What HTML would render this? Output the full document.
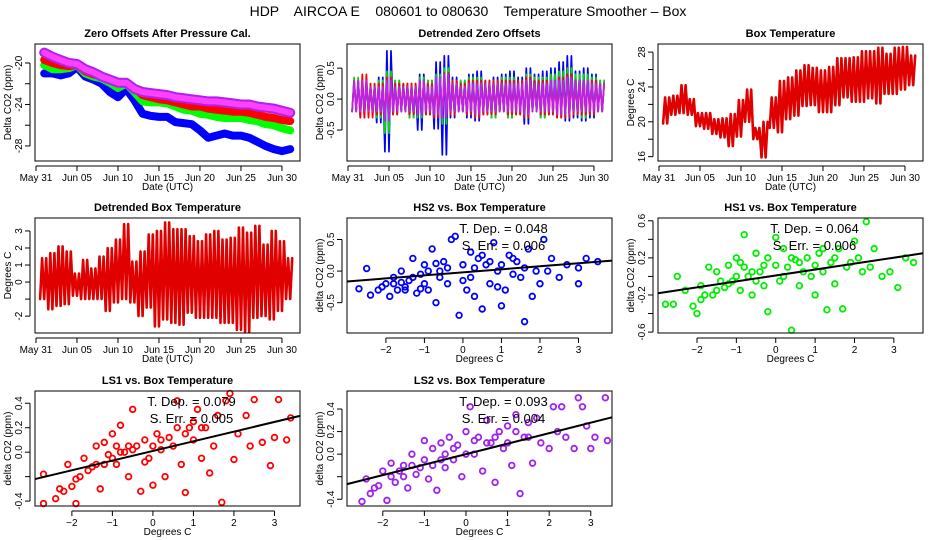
<!DOCTYPE html>
<html><head><meta charset="utf-8"><style>
body{margin:0;background:#fff}
svg{display:block;font-family:"Liberation Sans",sans-serif}
</style></head><body>
<svg id="c" width="936" height="540" viewBox="0 0 936 540" xmlns="http://www.w3.org/2000/svg">
<rect width="936" height="540" fill="#fff"/>
<text x="468" y="16" text-anchor="middle" font-size="14" style="white-space:pre">HDP    AIRCOA E    080601 to 080630    Temperature Smoother – Box</text>
</svg>
<script>
// ---- data ----
const dayLabels=["May 31","Jun 05","Jun 10","Jun 15","Jun 20","Jun 25","Jun 30"];
const dayTicks=[0,5,10,15,20,25,30];
const zoPurple=[-19.0,-19.4,-19.7,-20.0,-20.1,-20.6,-20.9,-21.3,-21.6,-21.9,-21.9,-22.5,-22.8,-22.9,-23.0,-23.1,-23.3,-23.4,-23.5,-23.6,-23.7,-23.7,-23.8,-23.9,-24.0,-24.0,-24.2,-24.3,-24.4,-24.6,-24.8];
const zoRed=[-19.7,-20.0,-20.2,-20.3,-20.2,-20.8,-21.1,-21.3,-21.6,-21.9,-21.9,-22.4,-23.1,-23.3,-23.5,-23.6,-23.8,-24.0,-24.2,-24.2,-24.4,-24.5,-24.6,-24.7,-24.7,-24.8,-25.0,-25.2,-25.3,-25.5,-25.6];
const zoGreen=[-20.2,-20.6,-20.6,-20.5,-20.2,-21.0,-21.3,-21.5,-21.9,-22.4,-22.0,-22.8,-23.7,-23.8,-23.8,-23.9,-24.2,-24.5,-24.6,-24.9,-25.0,-25.2,-25.3,-25.3,-25.3,-25.5,-25.6,-25.9,-26.0,-26.3,-26.5];
const zoBlue=[-21.0,-21.0,-21.2,-21.0,-20.4,-21.3,-21.6,-22.0,-22.8,-23.3,-22.5,-23.6,-24.9,-25.1,-25.2,-25.2,-25.7,-25.8,-25.9,-26.5,-27.2,-27.0,-26.8,-27.0,-27.0,-27.2,-27.6,-28.0,-28.3,-28.5,-28.3];
const dtBlueMin=[-0.2,-0.3,-0.2,-0.38,-0.85,-0.25,-0.2,-0.3,-0.5,-0.25,-0.48,-0.9,-0.3,-0.2,-0.3,-0.35,-0.25,-0.3,-0.2,-0.3,-0.25,-0.4,-0.2,-0.3,-0.25,-0.3,-0.35,-0.3,-0.35,-0.3,-0.2];
const dtBlueMax=[0.3,0.3,0.2,0.35,0.78,0.3,0.25,0.25,0.4,0.3,0.6,0.7,0.35,0.3,0.4,0.45,0.3,0.35,0.4,0.45,0.35,0.5,0.4,0.45,0.5,0.6,0.7,0.45,0.5,0.4,0.3];
const dtGreenMin=[-0.2,-0.25,-0.2,-0.3,-0.55,-0.25,-0.2,-0.3,-0.3,-0.25,-0.3,-0.4,-0.25,-0.2,-0.25,-0.3,-0.25,-0.3,-0.2,-0.3,-0.25,-0.3,-0.2,-0.3,-0.25,-0.3,-0.3,-0.25,-0.3,-0.25,-0.2];
const dtGreenMax=[0.35,0.3,0.25,0.3,0.45,0.3,0.25,0.25,0.35,0.3,0.4,0.5,0.3,0.3,0.35,0.35,0.3,0.3,0.35,0.35,0.3,0.4,0.35,0.35,0.4,0.45,0.5,0.4,0.4,0.35,0.3];
const dtRedMin=[-0.2,-0.3,-0.3,-0.25,-0.3,-0.25,-0.2,-0.25,-0.25,-0.25,-0.3,-0.3,-0.25,-0.2,-0.25,-0.3,-0.25,-0.25,-0.2,-0.25,-0.25,-0.3,-0.2,-0.25,-0.25,-0.3,-0.3,-0.25,-0.25,-0.25,-0.2];
const dtRedMax=[0.3,0.4,0.25,0.25,0.35,0.25,0.25,0.25,0.3,0.25,0.3,0.42,0.3,0.25,0.3,0.3,0.3,0.3,0.3,0.3,0.3,0.35,0.3,0.3,0.3,0.35,0.4,0.3,0.3,0.3,0.25];
const dtPurMin=[-0.2,-0.2,-0.2,-0.2,-0.35,-0.2,-0.2,-0.2,-0.25,-0.2,-0.25,-0.3,-0.2,-0.2,-0.2,-0.25,-0.2,-0.2,-0.2,-0.2,-0.2,-0.25,-0.2,-0.2,-0.2,-0.25,-0.25,-0.2,-0.2,-0.2,-0.2];
const dtPurMax=[0.3,0.3,0.2,0.2,0.3,0.2,0.2,0.2,0.3,0.2,0.35,0.4,0.25,0.2,0.25,0.25,0.25,0.25,0.25,0.25,0.25,0.3,0.25,0.25,0.3,0.3,0.35,0.3,0.3,0.25,0.25];
const btMin=[19.8,20.8,21.0,20.8,19.5,19.2,18.6,18.2,17.2,18.3,20.0,18.0,15.9,19.3,18.8,20.3,20.7,21.8,21.9,21.1,21.1,21.9,22.8,22.3,22.3,22.7,22.1,23.2,23.2,23.7,24.2];
const btMax=[22.8,23.0,24.2,22.6,21.0,21.0,20.3,20.4,20.9,22.5,23.7,19.3,20.0,22.8,24.7,25.1,25.9,26.5,26.2,25.9,26.3,27.3,27.3,27.4,28.1,28.1,28.5,27.8,28.5,28.6,27.6];
const dbMin=[-1.0,-1.6,-1.4,-1.3,-0.8,-1.0,-1.0,-1.0,-1.7,-1.2,-1.0,-1.2,-2.0,-1.5,-2.6,-2.2,-2.4,-2.5,-1.8,-2.1,-2.1,-2.1,-2.4,-2.4,-2.8,-2.9,-2.1,-2.0,-2.2,-1.7,-1.0];
const dbMax=[1.4,1.7,2.1,1.8,0.5,1.3,0.8,1.5,2.0,2.5,3.4,1.2,1.8,2.8,3.0,3.5,3.1,3.1,2.7,2.4,2.8,3.0,2.5,2.6,3.2,2.9,3.3,2.2,3.0,2.4,1.4];
const hs2Pts=[[-2.7,-0.28],[-2.5,0.04],[-2.4,-0.38],[-2.2,-0.3],[-2.0,-0.2],[-1.9,-0.4],[-1.8,-0.1],[-1.7,-0.3],[-1.6,0.0],[-1.5,-0.25],[-1.4,-0.15],[-1.3,0.2],[-1.2,-0.35],[-1.1,-0.05],[-1.0,0.1],[-0.9,-0.3],[-0.8,0.35],[-0.7,-0.5],[-0.6,0.0],[-0.5,0.15],[-0.4,-0.2],[-0.3,0.5],[-0.2,0.55],[-0.1,-0.7],[0.0,0.1],[0.1,-0.3],[0.2,0.3],[0.3,-0.4],[0.4,0.2],[0.5,-0.6],[0.6,0.1],[0.7,-0.2],[0.8,0.45],[0.9,0.0],[1.0,-0.55],[1.1,-0.3],[1.2,0.25],[1.3,-0.05],[1.4,0.15],[1.5,-0.1],[1.6,-0.8],[1.7,0.35],[1.8,-0.4],[1.9,0.0],[2.0,-0.2],[2.1,0.5],[2.3,0.2],[2.5,-0.1],[2.7,0.1],[3.0,-0.2],[3.0,0.05],[3.2,0.2],[3.5,0.15],[-1.5,-0.3],[-0.6,-0.1],[0.3,0.05],[-1.0,-0.2],[0.7,0.15],[-1.8,-0.2],[-1.3,-0.1],[-0.9,0.0],[-0.4,0.05],[0.2,-0.1],[0.5,0.25],[1.0,0.1],[1.3,0.2],[-2.1,-0.25],[-1.6,-0.18],[-1.1,-0.28],[-0.7,0.12],[0.0,-0.15],[0.9,-0.25],[1.6,0.05],[2.2,0.0]];
const hs1Pts=[[-2.8,-0.3],[-2.6,-0.3],[-2.5,0.0],[-2.3,-0.15],[-2.1,-0.32],[-2.0,-0.4],[-1.9,-0.1],[-1.7,0.1],[-1.6,-0.2],[-1.5,0.05],[-1.3,-0.12],[-1.2,0.12],[-1.1,-0.05],[-1.0,0.2],[-0.9,-0.15],[-0.8,0.45],[-0.7,0.0],[-0.6,-0.2],[-0.5,0.25],[-0.4,0.05],[-0.3,-0.1],[-0.2,-0.38],[0.0,0.12],[0.0,0.42],[0.1,-0.05],[0.2,0.3],[0.3,0.1],[0.4,-0.58],[0.5,0.18],[0.6,-0.1],[0.8,0.2],[0.9,0.0],[1.0,-0.2],[1.1,0.25],[1.2,0.05],[1.3,-0.36],[1.4,0.15],[1.5,-0.08],[1.6,0.3],[1.7,-0.35],[1.8,0.1],[2.0,0.38],[2.1,0.2],[2.3,0.59],[2.4,0.1],[2.5,0.3],[2.7,0.0],[2.9,0.05],[3.1,-0.12],[3.3,0.2],[3.5,0.15],[-1.4,-0.05],[-0.8,0.1],[-1.8,-0.2],[0.6,0.15],[-0.2,0.2],[-1.2,-0.08],[-1.0,0.0],[-0.6,0.05],[-0.3,0.12],[0.2,0.0],[0.7,0.05],[1.0,0.12],[1.5,0.2],[-1.9,-0.25],[-1.5,-0.15],[-0.9,0.15],[-0.5,-0.05],[0.4,0.2],[1.2,0.3],[1.9,0.15],[2.2,0.05]];
const ls1Pts=[[-2.7,-0.18],[-2.7,-0.42],[-2.4,-0.38],[-2.3,-0.3],[-2.1,-0.1],[-2.0,-0.28],[-1.9,-0.42],[-1.8,-0.2],[-1.7,-0.05],[-1.5,-0.12],[-1.4,0.05],[-1.3,-0.3],[-1.2,0.08],[-1.1,-0.02],[-1.0,0.15],[-0.9,-0.1],[-0.8,0.22],[-0.7,0.0],[-0.6,-0.2],[-0.5,0.35],[-0.4,0.05],[-0.3,-0.32],[-0.2,0.1],[-0.1,-0.05],[0.0,-0.27],[0.1,0.15],[0.2,0.02],[0.3,-0.2],[0.5,0.05],[0.6,0.42],[0.7,-0.1],[0.8,-0.33],[0.9,0.2],[1.0,0.1],[1.1,0.35],[1.2,-0.05],[1.3,0.2],[1.4,-0.17],[1.5,0.05],[1.6,0.3],[1.7,-0.41],[1.8,0.42],[1.9,0.48],[2.0,-0.06],[2.1,0.15],[2.3,0.3],[2.4,0.05],[2.5,0.43],[2.7,0.08],[2.9,-0.11],[3.0,0.12],[3.1,0.43],[3.3,0.1],[3.4,0.28],[-1.2,-0.1],[-0.6,0.05],[0.4,0.12],[-1.6,-0.15],[-1.4,-0.1],[-1.0,-0.05],[-0.8,0.0],[-0.5,0.02],[-0.2,-0.08],[0.2,0.1],[0.8,0.15],[1.0,0.25],[1.2,0.2],[-2.2,-0.32],[-1.9,-0.22],[-0.9,0.05],[0.0,0.05],[0.6,0.2]];
const ls2Pts=[[-2.5,-0.42],[-2.4,-0.22],[-2.3,-0.35],[-2.1,-0.28],[-2.0,-0.15],[-1.9,-0.41],[-1.8,-0.08],[-1.7,-0.25],[-1.5,-0.1],[-1.4,-0.3],[-1.3,0.0],[-1.2,-0.18],[-1.0,-0.05],[-1.0,0.12],[-0.9,-0.22],[-0.8,0.05],[-0.7,-0.32],[-0.6,0.1],[-0.5,-0.12],[-0.4,0.15],[-0.3,-0.05],[-0.2,0.08],[-0.1,-0.2],[0.0,0.2],[0.1,0.42],[0.2,0.0],[0.3,0.15],[0.4,-0.15],[0.5,0.3],[0.6,0.1],[0.7,-0.25],[0.8,0.2],[0.9,0.05],[1.0,0.25],[1.1,-0.1],[1.2,0.35],[1.3,-0.35],[1.4,0.15],[1.5,0.28],[1.6,-0.08],[1.7,0.32],[1.8,0.1],[2.0,0.05],[2.1,0.42],[2.2,0.2],[2.3,0.42],[2.4,0.15],[2.6,0.05],[2.7,0.5],[2.8,0.42],[2.9,0.25],[3.0,0.05],[3.1,0.15],[3.35,0.5],[3.4,0.12],[-1.5,-0.2],[-0.5,0.0],[0.5,0.1],[-1.1,-0.12],[-1.8,-0.2],[-1.3,-0.1],[-0.8,-0.1],[-0.3,0.05],[0.2,0.12],[0.7,0.15],[1.2,0.2],[1.5,0.15],[-2.2,-0.3],[-1.6,-0.15],[-0.6,-0.05],[0.0,0.0],[1.0,0.1]];
const slopes=[0.048,0.064,0.079,0.093];
const intercepts=[-0.02,0.01,0.01,0.0];
const sErrs=["0.006","0.006","0.005","0.004"];
const sxTicks=[-2,-1,0,1,2,3];

// ---- drawing ----
const svg=document.getElementById('c');
const NS='http://www.w3.org/2000/svg';
function mk(tag,at,parent){const e=document.createElementNS(NS,tag);for(const k in at)e.setAttribute(k,at[k]);(parent||svg).appendChild(e);return e;}
function txt(s,at,parent){const e=mk('text',at,parent);e.textContent=s;return e;}

function panel(name,box,xd,yd,title,xlab,ylab){
  const g=mk('g',{});
  
  
  const [L,T,R,B]=box;
  const sx=v=>L+(v-xd[0])/(xd[1]-xd[0])*(R-L);
  const sy=v=>B-(v-yd[0])/(yd[1]-yd[0])*(B-T);
  const t=txt(title,{x:(L+R)/2,y:T-7,'text-anchor':'middle','font-size':11,'font-weight':'bold'},g);
  
  
  const xl=txt(xlab,{x:(L+R)/2,y:B+29,'text-anchor':'middle','font-size':10},g);
  
  
  const yl=txt(ylab,{x:0,y:0,'text-anchor':'middle','font-size':10,transform:`translate(${L-24},${(T+B)/2}) rotate(-90)`},g);
  
  
  const plot=mk('g',{},g);
  return {g,plot,sx,sy,box};
}
function frame(p){
  const [L,T,R,B]=p.box;
  const f=mk('rect',{x:L,y:T,width:R-L,height:B-T,fill:'none',stroke:'#000','stroke-width':1},p.g);
  
  
}
function xAxis(p,ticks,labels){
  const B=p.box[3];
  const a=mk('g',{},p.g);
  
  
  mk('line',{x1:p.sx(ticks[0]),x2:p.sx(ticks[ticks.length-1]),y1:B+5,y2:B+5,stroke:'#000'},a);
  ticks.forEach((v,i)=>{const x=p.sx(v);
    mk('line',{x1:x,x2:x,y1:B+5,y2:B+10,stroke:'#000'},a);
    const tl=txt(labels[i],{x:x,y:B+20,'text-anchor':'middle','font-size':10},a);
    
    });
}
function yAxis(p,ticks,labels){
  const L=p.box[0];
  const a=mk('g',{},p.g);
  
  
  mk('line',{x1:L-5,x2:L-5,y1:p.sy(ticks[0]),y2:p.sy(ticks[ticks.length-1]),stroke:'#000'},a);
  ticks.forEach((v,i)=>{const y=p.sy(v);
    mk('line',{x1:L-10,x2:L-5,y1:y,y2:y,stroke:'#000'},a);
    if(labels[i]!==''){const tl=txt(labels[i],{x:0,y:0,'text-anchor':'middle','font-size':10,transform:`translate(${L-13},${y}) rotate(-90)`},a);
    
    }});
}
function line(p,xs,ys,color,w,name,dash){
  const pts=xs.map((x,i)=>p.sx(x).toFixed(1)+','+p.sy(ys[i]).toFixed(1)).join(' ');
  const at={points:pts,fill:'none',stroke:color,'stroke-width':w,'stroke-linejoin':'round','stroke-linecap':'round'};
  if(dash)at['stroke-dasharray']=dash;
  const l=mk('polyline',at,p.plot);
  
  
}
function zig(p,mins,maxs,color,w,name,n){
  const xs=[],ys=[];
  mins.forEach((mn,i)=>{const d=i+1;for(let k=0;k<n;k++){xs.push(d-0.5+k/n);ys.push(mn);xs.push(d-0.5+(k+0.5)/n);ys.push(maxs[i]);}});
  line(p,xs,ys,color,w,name);
}
const days=zoPurple.map((_,i)=>i+1);
const C1=[35,300],C2=[347,612],C3=[658,923];
const R1=[44,161],R2=[218,333],R3=[391,506];
const tDom=[-0.12,32.2];

// Panel 1
let p=panel('zero-offsets-panel',[C1[0],R1[0],C1[1],R1[1]],tDom,[-29.45,-18.17],'Zero Offsets After Pressure Cal.','Date (UTC)','Delta CO2 (ppm)');
line(p,days,zoBlue,'#0000ff',8,'series-blue');
line(p,days,zoGreen,'#00ff00',8,'series-green');
line(p,days,zoRed,'#ff0000',8,'series-red');
line(p,days,zoPurple,'#b020f0',10,'series-purple');
line(p,days,zoPurple,'#ff40ff',6,'series-purple-highlight','1.5 2');
frame(p);xAxis(p,dayTicks,dayLabels);yAxis(p,[-28,-26,-24,-22,-20],['-28','','-24','','-20']);

// Panel 2
p=panel('detrended-offsets-panel',[C2[0],R1[0],C2[1],R1[1]],tDom,[-1.0,0.89],'Detrended Zero Offsets','Date (UTC)','Delta CO2 (ppm)');
zig(p,dtBlueMin,dtBlueMax,'#0000ff',1.7,'detrended-blue',2);
zig(p,dtGreenMin,dtGreenMax,'#00dd00',1.7,'detrended-green',2);
zig(p,dtRedMin,dtRedMax,'#ff0000',1.7,'detrended-red',2);
zig(p,dtPurMin,dtPurMax,'#c020f0',1.7,'detrended-purple',2);
frame(p);xAxis(p,dayTicks,dayLabels);yAxis(p,[-0.5,0,0.5],['-0.5','0.0','0.5']);

// Panel 3
p=panel('box-temperature-panel',[C3[0],R1[0],C3[1],R1[1]],tDom,[15.5,28.93],'Box Temperature','Date (UTC)','Degrees C');
zig(p,btMin,btMax,'#e00000',2.6,'box-temp-series',2);
frame(p);xAxis(p,dayTicks,dayLabels);yAxis(p,[16,18,20,22,24,26,28],['16','','20','','24','','28']);

// Panel 4
p=panel('detrended-box-temp-panel',[C1[0],R2[0],C1[1],R2[1]],tDom,[-2.99,3.76],'Detrended Box Temperature','Date (UTC)','Degrees C');
zig(p,dbMin,dbMax,'#e00000',2.6,'detrended-temp-series',2);
frame(p);xAxis(p,dayTicks,dayLabels);yAxis(p,[-2,-1,0,1,2,3],['-2','','0','1','2','3']);

// Scatter panels
function scatter(name,col,row,xd,yd,title,pts,color,k,yt,ytl){
  const p=panel(name,[col[0],row[0],col[1],row[1]],xd,yd,title,'Degrees C','delta CO2 (ppm)');
  pts.forEach(q=>{const c=mk('circle',{cx:p.sx(q[0]),cy:p.sy(q[1]),r:2.8,fill:'none',stroke:color,'stroke-width':1.8},p.plot);
    
    });
  const x0=xd[0],x1=xd[1];
  const rl=mk('line',{x1:p.sx(x0),y1:p.sy(intercepts[k]+slopes[k]*x0),x2:p.sx(x1),y2:p.sy(intercepts[k]+slopes[k]*x1),stroke:'#000','stroke-width':2},p.plot);
  
  
  const cx=(col[0]+col[1])/2+24;
  const a=txt('T. Dep. =  '+slopes[k].toFixed(3),{x:cx,y:row[0]+15,'text-anchor':'middle','font-size':13},p.g);
  
  
  const b=txt('S. Err. =  '+sErrs[k],{x:cx,y:row[0]+32,'text-anchor':'middle','font-size':13},p.g);
  
  
  frame(p);xAxis(p,sxTicks,sxTicks.map(v=>v<0?'\u2212'+(-v):String(v)));yAxis(p,yt,ytl);
}
scatter('hs2-scatter-panel',C2,R2,[-3.01,3.87],[-0.98,0.84],'HS2 vs. Box Temperature',hs2Pts,'#0000ff',0,[-0.5,0,0.5],['-0.5','0.0','0.5']);
scatter('hs1-scatter-panel',C3,R2,[-2.99,3.74],[-0.61,0.63],'HS1 vs. Box Temperature',hs1Pts,'#00ee00',1,[-0.6,-0.4,-0.2,0,0.2,0.4,0.6],['-0.6','','-0.2','','0.2','','0.6']);
scatter('ls1-scatter-panel',C1,R3,[-2.91,3.63],[-0.44,0.5],'LS1 vs. Box Temperature',ls1Pts,'#ff0000',2,[-0.4,-0.2,0,0.2,0.4],['-0.4','','0.0','0.2','0.4']);
scatter('ls2-scatter-panel',C2,R3,[-2.86,3.51],[-0.46,0.56],'LS2 vs. Box Temperature',ls2Pts,'#a020f0',3,[-0.4,-0.2,0,0.2,0.4],['-0.4','','0.0','0.2','0.4']);
</script>
</body></html>
